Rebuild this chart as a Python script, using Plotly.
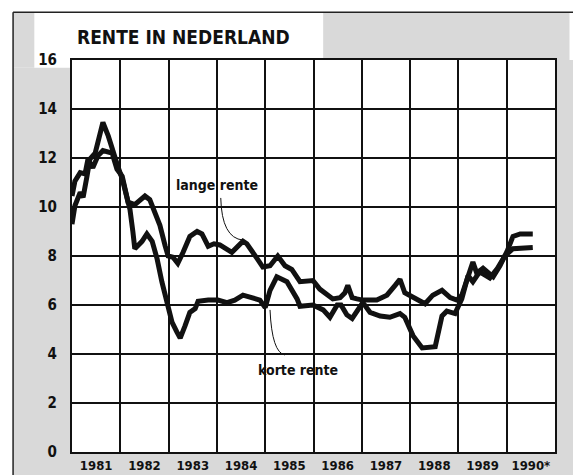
import plotly.graph_objects as go

lange_jaar = [1981.00, 1981.06, 1981.17, 1981.27, 1981.33, 1981.43, 1981.54, 1981.64,
              1981.83, 1981.93, 1982.04, 1982.10, 1982.16, 1982.30, 1982.51, 1982.61,
              1982.72, 1982.82, 1982.93, 1982.99, 1983.09, 1983.19, 1983.30, 1983.44,
              1983.59, 1983.69, 1983.82, 1983.94, 1984.06, 1984.31, 1984.54, 1984.62,
              1984.83, 1984.95, 1985.10, 1985.26, 1985.41, 1985.55, 1985.72, 1985.99,
              1986.13, 1986.28, 1986.40, 1986.55, 1986.65, 1986.71, 1986.80, 1986.90,
              1987.02, 1987.31, 1987.52, 1987.69, 1987.79, 1987.89, 1988.10, 1988.31,
              1988.47, 1988.66, 1988.83, 1988.97, 1989.07, 1989.20, 1989.30, 1989.38,
              1989.51, 1989.72, 1989.86, 1990.01, 1990.13, 1990.28, 1990.54]
lange_rente = [10.45, 11.05, 11.4, 11.35, 11.95, 11.6, 12.1, 12.3,
               12.2, 11.55, 11.25, 10.7, 10.2, 10.1, 10.45, 10.3,
               9.8, 9.25, 8.4, 8.0, 7.95, 7.7, 8.15, 8.8,
               9.0, 8.9, 8.4, 8.5, 8.45, 8.15, 8.6, 8.5,
               7.9, 7.55, 7.6, 8.0, 7.6, 7.45, 6.95, 7.0,
               6.65, 6.4, 6.25, 6.3, 6.5, 6.8, 6.3, 6.25,
               6.2, 6.2, 6.4, 6.8, 7.05, 6.5, 6.25, 6.05,
               6.4, 6.6, 6.3, 6.2, 6.4, 7.2, 7.75, 7.3,
               7.5, 7.15, 7.6, 8.2, 8.8, 8.9, 8.9]

korte_jaar = [1981.00, 1981.06, 1981.17, 1981.23, 1981.31, 1981.37, 1981.48, 1981.54,
              1981.64, 1981.75, 1981.85, 1981.95, 1982.04, 1982.14, 1982.20, 1982.26,
              1982.30, 1982.45, 1982.55, 1982.66, 1982.76, 1982.86, 1982.97, 1983.07,
              1983.17, 1983.24, 1983.34, 1983.44, 1983.55, 1983.61, 1983.82, 1984.02,
              1984.21, 1984.37, 1984.54, 1984.73, 1984.89, 1985.00, 1985.10, 1985.24,
              1985.45, 1985.66, 1985.72, 1985.99, 1986.20, 1986.34, 1986.49, 1986.57,
              1986.69, 1986.80, 1986.92, 1987.02, 1987.17, 1987.38, 1987.58, 1987.79,
              1987.89, 1988.06, 1988.25, 1988.52, 1988.66, 1988.76, 1988.93, 1989.07,
              1989.20, 1989.30, 1989.44, 1989.65, 1989.81, 1989.96, 1990.13, 1990.54]
korte_rente = [9.3, 10.05, 10.6, 10.4, 11.25, 11.95, 12.2, 12.75,
               13.45, 12.9, 12.35, 11.65, 11.15, 10.45, 9.9, 9.0,
               8.3, 8.6, 8.9, 8.6, 7.9, 6.95, 6.15, 5.3,
               4.9, 4.65, 5.15, 5.7, 5.85, 6.15, 6.2, 6.2,
               6.1, 6.2, 6.4, 6.3, 6.2, 5.9, 6.6, 7.15,
               6.95, 6.25, 5.95, 6.0, 5.8, 5.5, 6.0, 6.0,
               5.6, 5.45, 5.85, 6.1, 5.7, 5.55, 5.5, 5.65,
               5.5, 4.75, 4.25, 4.3, 5.55, 5.75, 5.65, 6.25,
               7.2, 6.95, 7.35, 7.1, 7.5, 8.0, 8.3, 8.35]

jaren = [1981.5 + i for i in range(10)]
jaar_labels = ["1981", "1982", "1983", "1984", "1985", "1986", "1987", "1988", "1989", "1990*"]

FONT = "Liberation Sans Narrow, Arial Narrow, DejaVu Sans Condensed, sans-serif"
GRIJS = "#d9d9d9"

fig = go.Figure()
for x, y, naam in [(lange_jaar, lange_rente, "lange rente"), (korte_jaar, korte_rente, "korte rente")]:
    fig.add_trace(go.Scatter(
        x=x, y=y, mode="lines", name=naam,
        line=dict(color="#111111", width=5),
    ))

# grijze krantenrand rond het kader (papiercoördinaten t.o.v. het plotvlak)
for x0, x1, y0, y1 in [(-0.122, 0.0, -0.06, 0.98), (-0.122, -0.078, 0.98, 1.122),
                       (0.52, 1.03, 1.0, 1.12), (1.0, 1.06, -0.06, 1.0),
                       (0.0, 1.0, -0.06, 0.0)]:
    fig.add_shape(type="rect", xref="paper", yref="paper", x0=x0, x1=x1, y0=y0, y1=y1,
                  fillcolor=GRIJS, line_width=0, layer="below")
fig.add_shape(type="line", xref="paper", yref="paper", x0=-0.122, x1=1.06, y0=1.122, y1=1.122,
              line=dict(color="#222", width=1.5))
fig.add_shape(type="line", xref="paper", yref="paper", x0=-0.122, x1=-0.122, y0=-0.06, y1=1.122,
              line=dict(color="#222", width=1.5))

# verwijslijntjes naar de labels
fig.add_shape(type="path", path="M 1984.08,10.37 Q 1984.10,8.73 1984.54,8.65",
              line=dict(color="#111", width=1))
fig.add_shape(type="path", path="M 1985.10,5.8 Q 1985.14,4.05 1985.41,3.96",
              line=dict(color="#111", width=1))

fig.add_annotation(x=1984.0, y=10.9, yanchor="middle", text="<b>lange rente</b>",
                   showarrow=False, font=dict(family=FONT, size=14, color="#111"))
fig.add_annotation(x=1985.68, y=3.35, yanchor="middle", text="<b>korte rente</b>",
                   showarrow=False, font=dict(family=FONT, size=14, color="#111"))
fig.add_annotation(xref="paper", yref="paper", x=0.006, y=1.059, xanchor="left", yanchor="middle",
                   text="<b>RENTE IN NEDERLAND</b>", showarrow=False,
                   font=dict(family=FONT, size=19, color="#111"))

fig.update_xaxes(
    range=[1981, 1991], tickvals=jaren, ticktext=jaar_labels,
    showgrid=False, ticks="", zeroline=False, automargin=False,
    showline=True, linecolor="#111", linewidth=2, mirror=True,
    ticklabelstandoff=0,
    tickfont=dict(family=FONT, size=13, color="#111", weight="bold"),
    minor=dict(tickvals=list(range(1982, 1991)), showgrid=True,
               gridcolor="#111", gridwidth=1.5),
)
fig.update_yaxes(
    range=[0, 16], dtick=2, showgrid=True, gridcolor="#111", gridwidth=1.5,
    zeroline=False, showline=True, linecolor="#111", linewidth=2, mirror=True,
    ticks="", ticklabelstandoff=10, automargin=False,
    tickfont=dict(family=FONT, size=15, color="#111", weight="bold"),
)
# de pagina heeft 8px bodymarge: figuur 8px kleiner zodat het plotvlak goed valt
fig.update_layout(
    width=573, height=467,
    margin=dict(l=64, r=26, t=52, b=23, autoexpand=False),
    paper_bgcolor="white", plot_bgcolor="white",
    showlegend=False,
)
fig.write_html("out.html")
